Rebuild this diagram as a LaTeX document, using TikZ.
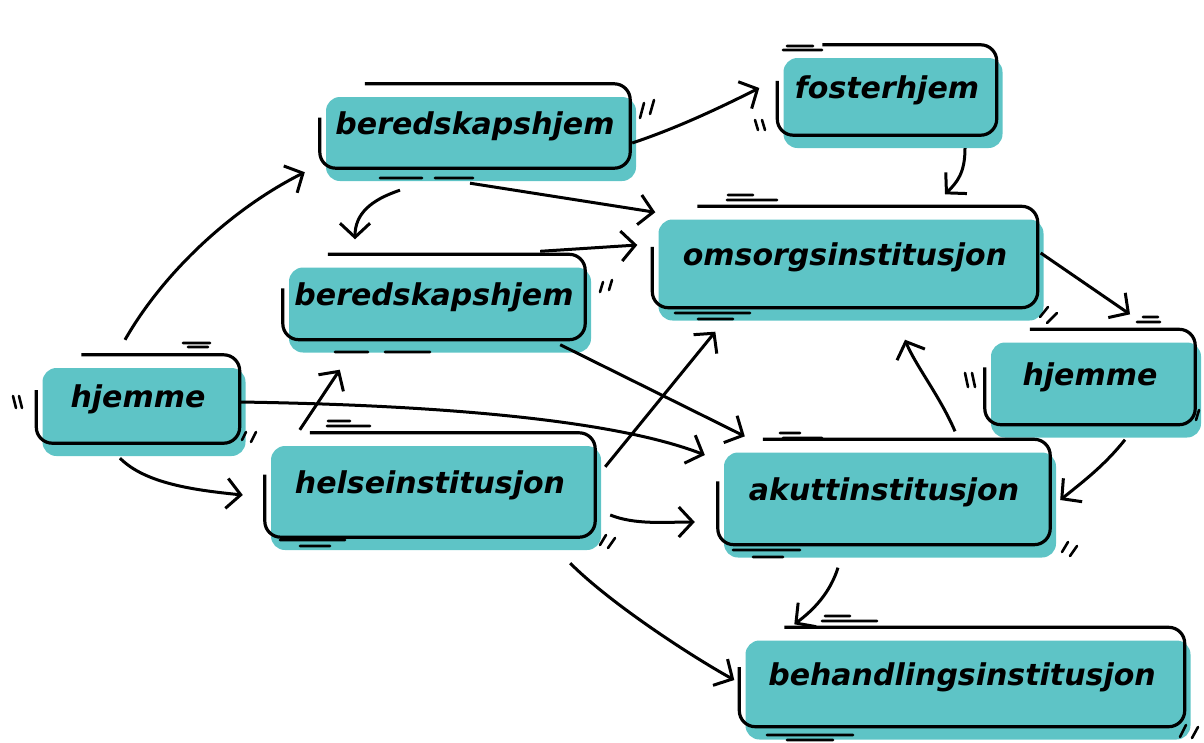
\documentclass[tikz,border=0pt]{standalone}
\usepackage{fontspec}
\setmainfont{DejaVu Sans}
\usetikzlibrary{arrows.meta,calc}

\definecolor{boksfarge}{RGB}{94,196,198}

\tikzset{
  boks/.style={rectangle, rounded corners=14pt, font=\fontsize{30}{36}\selectfont\bfseries\itshape,
    preaction={fill=boksfarge, transform canvas={shift={(6,13)}}}},
  kant/.style={line width=3.2pt, rounded corners=16pt},
  pil/.style={line width=3pt, -{Straight Barb[length=14pt,width=30pt]}},
  strek/.style={line width=2.6pt, line cap=round},
}

\begin{document}
\begin{tikzpicture}[x=1pt,y=-1pt]
\useasboundingbox (0,0) rectangle (1204,742);
\path (475,126) node(b1) [boks, minimum width=310pt, minimum height=84pt] {beredskapshjem}
(887,90) node(f) [boks, minimum width=219pt, minimum height=90pt] {fosterhjem}
(845,257) node(o) [boks, minimum width=385pt, minimum height=101pt] {omsorgsinstitusjon}
(434,297) node(b2) [boks, minimum width=302pt, minimum height=85pt] {beredskapshjem}
(138,399) node(hv) [boks, minimum width=203pt, minimum height=88pt] {hjemme}
(1090,377) node(hh) [boks, minimum width=210pt, minimum height=95pt] {hjemme}
(430,485) node(he) [boks, minimum width=330pt, minimum height=104pt] {helseinstitusjon}
(884,492) node(a) [boks, minimum width=332pt, minimum height=105pt] {akuttinstitusjon}
(962,677) node(bh) [boks, minimum width=445pt, minimum height=99pt] {behandlingsinstitusjon};

% open outlines, gap at the top left corner
\foreach \n in {b1,f,o,b2,hv,hh,he,a,bh}
  \draw[kant] ([shift={(45,0)}]\n.north west) -- (\n.north east) -- (\n.south east)
    -- (\n.south west) -- ($(\n.south west)!0.6!(\n.north west)$);

% connectors
\draw[pil] ([shift={(-13,-15)}]hv.north) .. controls +(40,-70) and +(-70,35) .. ([shift={(-15,4)}]b1.south west);
\draw[pil] ([shift={(2,17)}]b1.east) .. controls +(45,-15) and +(-40,20) .. ([shift={(-18,-2)}]f.west);
\draw[pil] ([shift={(-5,15)}]b1.south) -- ([shift={(3,6)}]o.north west);
\draw[pil] ([shift={(-75,22)}]b1.south) .. controls +(-30,10) and +(0,-25) .. ([shift={(-79,-15)}]b2.north);
\draw[pil] ([shift={(78,13)}]f.south) .. controls +(0,25) and +(12,-12) .. ([shift={(100,-12)}]o.north);
\draw[pil] ([shift={(-45,-3)}]b2.north east) -- ([shift={(-15,-12)}]o.west);
\draw[pil] ([shift={(3,-4)}]o.east) -- ([shift={(40,-15)}]hh.north);
\draw[pil] ([shift={(-25,5)}]b2.south east) -- ([shift={(27,-3)}]a.north west);
\draw[pil] ([shift={(0,3)}]hv.east) .. controls +(200,3) and +(-90,-35) .. ([shift={(-13,-37)}]a.west);
\draw[pil] ([shift={(-18,15)}]hv.south) .. controls +(25,25) and +(-50,-5) .. ([shift={(-22,10)}]he.west);
\draw[pil] ([shift={(35,-3)}]he.north west) -- ([shift={(57,30)}]b2.south west);
\draw[pil] ([shift={(10,34)}]he.north east) -- ([shift={(63,24)}]o.south west);
\draw[pil] ([shift={(15,30)}]he.east) .. controls +(25,10) and +(-30,0) .. ([shift={(-23,30)}]a.west);
\draw[pil] ([shift={(71,-8)}]a.north) .. controls +(-15,-35) and +(10,25) .. ([shift={(60,32)}]o.south);
\draw[pil] ([shift={(35,15)}]hh.south) .. controls +(-20,25) and +(25,-20) .. ([shift={(10,8)}]a.east);
\draw[pil] ([shift={(-46,23)}]a.south) .. controls +(-8,25) and +(20,-15) .. ([shift={(55,-3)}]bh.north west);
\draw[pil] ([shift={(-25,26)}]he.south east) .. controls +(40,40) and +(-45,-25) .. ([shift={(-5,3)}]bh.west);

% small strokes round the boxes
\draw[strek] (380,178) -- (422,178) (435,178) -- (473,178) (640,118) -- (644,103) (650,114) -- (654,100);
\draw[strek] (787,46) -- (813,46) (783,50) -- (822,50) (755,120) -- (758,130) (762,120) -- (765,130);
\draw[strek] (728,195) -- (753,195) (727,200) -- (777,200) (675,313) -- (750,313) (698,319) -- (733,319)
  (1040,317) -- (1048,307) (1047,323) -- (1057,313);
\draw[strek] (335,352) -- (368,352) (385,352) -- (430,352) (600,292) -- (603,282) (609,290) -- (612,280);
\draw[strek] (183,343) -- (210,343) (188,347) -- (208,347) (13,396) -- (16,408) (19,396) -- (22,408)
  (242,440) -- (246,432) (251,442) -- (256,432);
\draw[strek] (1143,317) -- (1158,317) (1137,322) -- (1160,322) (965,373) -- (968,387) (972,373) -- (975,387)
  (1196,420) -- (1199,410);
\draw[strek] (328,421) -- (350,421) (327,426) -- (370,426) (280,540) -- (345,540) (300,546) -- (330,546)
  (600,545) -- (606,535) (608,548) -- (615,538);
\draw[strek] (780,433) -- (800,433) (783,438) -- (822,438) (733,550) -- (800,550) (753,557) -- (783,557)
  (1062,552) -- (1068,542) (1070,556) -- (1077,546);
\draw[strek] (825,616) -- (850,616) (822,621) -- (877,621) (767,735) -- (853,735) (787,740) -- (833,740)
  (1180,737) -- (1186,725) (1192,738) -- (1198,727);
\end{tikzpicture}
\end{document}
